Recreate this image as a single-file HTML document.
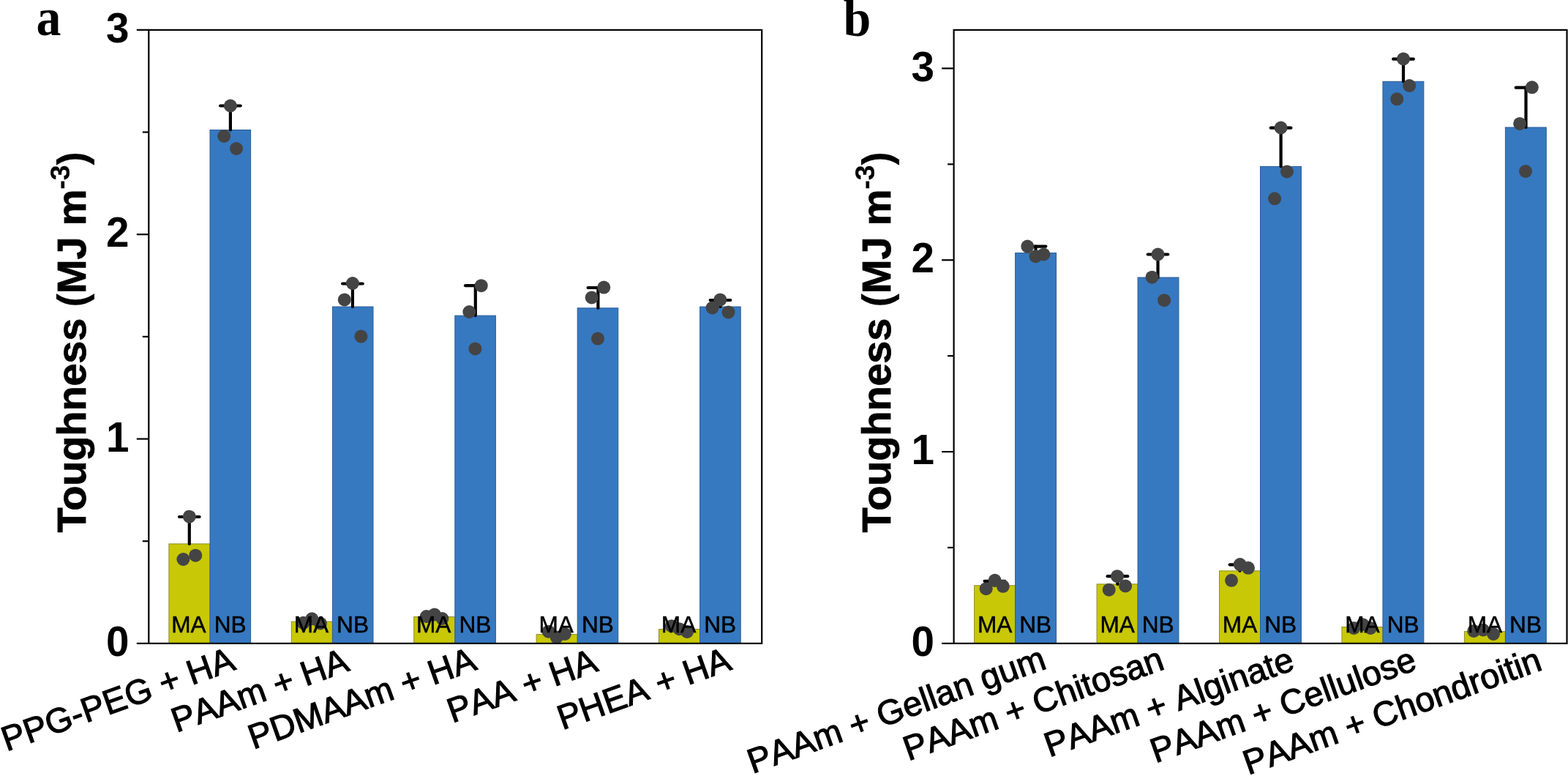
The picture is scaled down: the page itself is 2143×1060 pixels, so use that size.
<!DOCTYPE html>
<html lang="en">
<head>
<meta charset="utf-8">
<style>
html,body{margin:0;padding:0;background:#fff;}
body{width:2143px;height:1060px;overflow:hidden;}
svg{display:block;}
text{font-family:"Liberation Sans",Arial,Helvetica,sans-serif;fill:#000;font-kerning:none;}
.tk{font-weight:bold;font-size:56.6px;text-anchor:end;}
.yl{font-weight:bold;font-size:56.0px;font-kerning:normal;letter-spacing:-0.2px;stroke:#000;stroke-width:.8px;}
.xl{font-size:47.2px;text-anchor:end;stroke:#000;stroke-width:1.1px;}
.bl{font-size:31.6px;text-anchor:middle;stroke:#000;stroke-width:.5px;}
.pl{font-family:"Liberation Serif","Times New Roman",serif;font-weight:bold;font-size:71.5px;}
.ax{stroke:#000;stroke-width:2.2;fill:none;}
.eb{stroke:#000;stroke-width:4.2;stroke-linecap:round;fill:none;}
.bar{stroke-width:1;}
.dot{fill:#444444;}
</style>
</head>
<body>
<svg width="2143" height="1060" viewBox="0 0 2143 1060">
<rect x="0" y="0" width="2143" height="1060" fill="#fff"/>

<g id="panel-a">
<rect class="bar" x="230.9" y="742.9" width="56.1" height="136" fill="#c8c806" stroke="#8e8e2c"/>
<rect class="bar" x="287" y="177.5" width="55.6" height="701.4" fill="#3679c0" stroke="#2c5d99"/>
<rect class="bar" x="398.3" y="849.1" width="56.1" height="29.8" fill="#c8c806" stroke="#8e8e2c"/>
<rect class="bar" x="454.4" y="419" width="55.6" height="459.9" fill="#3679c0" stroke="#2c5d99"/>
<rect class="bar" x="565.7" y="842.6" width="56.1" height="36.3" fill="#c8c806" stroke="#8e8e2c"/>
<rect class="bar" x="621.8" y="431.1" width="55.6" height="447.8" fill="#3679c0" stroke="#2c5d99"/>
<rect class="bar" x="733.1" y="866.6" width="56.1" height="12.3" fill="#c8c806" stroke="#8e8e2c"/>
<rect class="bar" x="789.2" y="420.8" width="55.6" height="458.1" fill="#3679c0" stroke="#2c5d99"/>
<rect class="bar" x="900.5" y="859.5" width="56.1" height="19.4" fill="#c8c806" stroke="#8e8e2c"/>
<rect class="bar" x="956.6" y="419" width="55.6" height="459.9" fill="#3679c0" stroke="#2c5d99"/>
<line class="eb" x1="258.8" y1="742.9" x2="258.8" y2="706"/><line class="eb" x1="245" y1="706" x2="272.6" y2="706"/>
<line class="eb" x1="314.9" y1="177.5" x2="314.9" y2="144.5"/><line class="eb" x1="301.1" y1="144.5" x2="328.7" y2="144.5"/>
<line class="eb" x1="481.9" y1="419" x2="481.9" y2="387.5"/><line class="eb" x1="468.1" y1="387.5" x2="495.7" y2="387.5"/>
<line class="eb" x1="649.8" y1="431.1" x2="649.8" y2="390.2"/><line class="eb" x1="636" y1="390.2" x2="663.6" y2="390.2"/>
<line class="eb" x1="817.4" y1="420.8" x2="817.4" y2="393"/><line class="eb" x1="803.6" y1="393" x2="831.2" y2="393"/>
<line class="eb" x1="984.5" y1="419" x2="984.5" y2="410"/><line class="eb" x1="970.7" y1="410" x2="998.3" y2="410"/>
<circle class="dot" cx="258.8" cy="705.7" r="9.0"/>
<circle class="dot" cx="250.4" cy="764" r="9.0"/>
<circle class="dot" cx="267.2" cy="758.7" r="9.0"/>
<circle class="dot" cx="314.9" cy="144.5" r="9.0"/>
<circle class="dot" cx="306.2" cy="186" r="9.0"/>
<circle class="dot" cx="323" cy="203" r="9.0"/>
<circle class="dot" cx="414.5" cy="850.8" r="9.0"/>
<circle class="dot" cx="437.9" cy="851.5" r="9.0"/>
<circle class="dot" cx="426.3" cy="845.3" r="9.0"/>
<circle class="dot" cx="481.9" cy="387" r="9.0"/>
<circle class="dot" cx="470.8" cy="409.4" r="9.0"/>
<circle class="dot" cx="493.4" cy="459.6" r="9.0"/>
<circle class="dot" cx="582.8" cy="842" r="9.0"/>
<circle class="dot" cx="604.4" cy="845" r="9.0"/>
<circle class="dot" cx="593.8" cy="839.4" r="9.0"/>
<circle class="dot" cx="657.7" cy="390.2" r="9.0"/>
<circle class="dot" cx="641.3" cy="426" r="9.0"/>
<circle class="dot" cx="649.4" cy="476.4" r="9.0"/>
<circle class="dot" cx="749.6" cy="862.7" r="9.0"/>
<circle class="dot" cx="771.9" cy="865.9" r="9.0"/>
<circle class="dot" cx="760.8" cy="870.6" r="9.0"/>
<circle class="dot" cx="825.3" cy="392.6" r="9.0"/>
<circle class="dot" cx="808.7" cy="406.4" r="9.0"/>
<circle class="dot" cx="817" cy="462.6" r="9.0"/>
<circle class="dot" cx="917.8" cy="855.2" r="9.0"/>
<circle class="dot" cx="928.5" cy="859.2" r="9.0"/>
<circle class="dot" cx="939.1" cy="862.9" r="9.0"/>
<circle class="dot" cx="984.3" cy="409.4" r="9.0"/>
<circle class="dot" cx="973.6" cy="420.4" r="9.0"/>
<circle class="dot" cx="995.5" cy="426.4" r="9.0"/>
<rect class="ax" x="203.3" y="40.9" width="837.9" height="838"/>
<line class="ax" x1="186.8" y1="878.9" x2="203.3" y2="878.9"/>
<text class="tk" x="176.6" y="896.1">0</text>
<line class="ax" x1="194.8" y1="739.22" x2="203.3" y2="739.22"/>
<line class="ax" x1="186.8" y1="599.55" x2="203.3" y2="599.55"/>
<text class="tk" x="176.6" y="616.75">1</text>
<line class="ax" x1="194.8" y1="459.87" x2="203.3" y2="459.87"/>
<line class="ax" x1="186.8" y1="320.2" x2="203.3" y2="320.2"/>
<text class="tk" x="176.6" y="337.4">2</text>
<line class="ax" x1="194.8" y1="180.52" x2="203.3" y2="180.52"/>
<line class="ax" x1="186.8" y1="40.85" x2="203.3" y2="40.85"/>
<text class="tk" x="176.6" y="58.05">3</text>
<text class="bl" x="257.95" y="863.6">MA</text>
<text class="bl" x="314.65" y="863.6">NB</text>
<text class="bl" x="425.35" y="863.6">MA</text>
<text class="bl" x="482.05" y="863.6">NB</text>
<text class="bl" x="592.75" y="863.6">MA</text>
<text class="bl" x="649.45" y="863.6">NB</text>
<text class="bl" x="760.15" y="863.6">MA</text>
<text class="bl" x="816.85" y="863.6">NB</text>
<text class="bl" x="927.55" y="863.6">MA</text>
<text class="bl" x="984.25" y="863.6">NB</text>
<text class="xl" transform="translate(323.8 913.8) rotate(-19.7)">PPG-PEG + HA</text>
<text class="xl" transform="translate(479.4 915.4) rotate(-19.7)">PAAm + HA</text>
<text class="xl" transform="translate(653.6 913.8) rotate(-19.7)">PDMAAm + HA</text>
<text class="xl" transform="translate(819.4 915.8) rotate(-19.7)">PAA + HA</text>
<text class="xl" transform="translate(1002 913.8) rotate(-19.7)">PHEA + HA</text>
<text class="yl" transform="translate(116.6 727.5) rotate(-90)">Toughness <tspan stroke-width="0">(</tspan>MJ m<tspan font-size="37.5" dy="-22" stroke-width=".2">-3</tspan><tspan dy="22" stroke-width="0">)</tspan></text>
<text class="pl" transform="translate(49.4 47.8) scale(.95 1)">a</text>
</g>
<g id="panel-b">
<rect class="bar" x="1331.6" y="799.8" width="56" height="79.1" fill="#c8c806" stroke="#8e8e2c"/>
<rect class="bar" x="1387.6" y="345.5" width="55.9" height="533.4" fill="#3679c0" stroke="#2c5d99"/>
<rect class="bar" x="1499.05" y="797.9" width="56" height="81" fill="#c8c806" stroke="#8e8e2c"/>
<rect class="bar" x="1555.05" y="379" width="55.9" height="499.9" fill="#3679c0" stroke="#2c5d99"/>
<rect class="bar" x="1666.5" y="779.8" width="56" height="99.1" fill="#c8c806" stroke="#8e8e2c"/>
<rect class="bar" x="1722.5" y="227.4" width="55.9" height="651.5" fill="#3679c0" stroke="#2c5d99"/>
<rect class="bar" x="1833.95" y="856.4" width="56" height="22.5" fill="#c8c806" stroke="#8e8e2c"/>
<rect class="bar" x="1889.95" y="111.3" width="55.9" height="767.6" fill="#3679c0" stroke="#2c5d99"/>
<rect class="bar" x="2001.4" y="862.6" width="56" height="16.3" fill="#c8c806" stroke="#8e8e2c"/>
<rect class="bar" x="2057.4" y="174" width="55.9" height="704.9" fill="#3679c0" stroke="#2c5d99"/>
<line class="eb" x1="1359.4" y1="799.8" x2="1359.4" y2="793.8"/><line class="eb" x1="1345.6" y1="793.8" x2="1373.2" y2="793.8"/>
<line class="eb" x1="1415.5" y1="345.5" x2="1415.5" y2="336.6"/><line class="eb" x1="1401.7" y1="336.6" x2="1429.3" y2="336.6"/>
<line class="eb" x1="1527.4" y1="797.9" x2="1527.4" y2="787.2"/><line class="eb" x1="1513.6" y1="787.2" x2="1541.2" y2="787.2"/>
<line class="eb" x1="1582.5" y1="379" x2="1582.5" y2="347.5"/><line class="eb" x1="1568.7" y1="347.5" x2="1596.3" y2="347.5"/>
<line class="eb" x1="1694.5" y1="779.8" x2="1694.5" y2="771.3"/><line class="eb" x1="1680.7" y1="771.3" x2="1708.3" y2="771.3"/>
<line class="eb" x1="1750.6" y1="227.4" x2="1750.6" y2="174.7"/><line class="eb" x1="1736.8" y1="174.7" x2="1764.4" y2="174.7"/>
<line class="eb" x1="1918" y1="111.3" x2="1918" y2="80.7"/><line class="eb" x1="1904.2" y1="80.7" x2="1931.8" y2="80.7"/>
<line class="eb" x1="2085.5" y1="174" x2="2085.5" y2="119.7"/><line class="eb" x1="2071.7" y1="119.7" x2="2099.3" y2="119.7"/>
<circle class="dot" cx="1347.7" cy="804.2" r="9.0"/>
<circle class="dot" cx="1370.8" cy="800.8" r="9.0"/>
<circle class="dot" cx="1359.6" cy="792.8" r="9.0"/>
<circle class="dot" cx="1404.3" cy="336.6" r="9.0"/>
<circle class="dot" cx="1415.5" cy="350.2" r="9.0"/>
<circle class="dot" cx="1426.4" cy="347.5" r="9.0"/>
<circle class="dot" cx="1527" cy="787.2" r="9.0"/>
<circle class="dot" cx="1515.7" cy="805.7" r="9.0"/>
<circle class="dot" cx="1538.1" cy="800.4" r="9.0"/>
<circle class="dot" cx="1582.5" cy="347.5" r="9.0"/>
<circle class="dot" cx="1574.5" cy="378.7" r="9.0"/>
<circle class="dot" cx="1591.1" cy="410.2" r="9.0"/>
<circle class="dot" cx="1694.7" cy="771.1" r="9.0"/>
<circle class="dot" cx="1706" cy="775.8" r="9.0"/>
<circle class="dot" cx="1683" cy="792.8" r="9.0"/>
<circle class="dot" cx="1750.6" cy="174.5" r="9.0"/>
<circle class="dot" cx="1758.9" cy="234.5" r="9.0"/>
<circle class="dot" cx="1742.1" cy="271.3" r="9.0"/>
<circle class="dot" cx="1850.4" cy="858" r="9.0"/>
<circle class="dot" cx="1862.6" cy="853.2" r="9.0"/>
<circle class="dot" cx="1873" cy="858" r="9.0"/>
<circle class="dot" cx="1918" cy="80.4" r="9.0"/>
<circle class="dot" cx="1926.2" cy="117" r="9.0"/>
<circle class="dot" cx="1909.2" cy="135.3" r="9.0"/>
<circle class="dot" cx="2014.2" cy="861.9" r="9.0"/>
<circle class="dot" cx="2027" cy="860.5" r="9.0"/>
<circle class="dot" cx="2041" cy="866" r="9.0"/>
<circle class="dot" cx="2093.8" cy="119.3" r="9.0"/>
<circle class="dot" cx="2077.1" cy="168.9" r="9.0"/>
<circle class="dot" cx="2085" cy="234" r="9.0"/>
<rect class="ax" x="1303.6" y="40.9" width="837.9" height="838"/>
<line class="ax" x1="1287.1" y1="878.9" x2="1303.6" y2="878.9"/>
<text class="tk" x="1276.9" y="896.1">0</text>
<line class="ax" x1="1295.1" y1="747.99" x2="1303.6" y2="747.99"/>
<line class="ax" x1="1287.1" y1="617.07" x2="1303.6" y2="617.07"/>
<text class="tk" x="1276.9" y="634.27">1</text>
<line class="ax" x1="1295.1" y1="486.15" x2="1303.6" y2="486.15"/>
<line class="ax" x1="1287.1" y1="355.24" x2="1303.6" y2="355.24"/>
<text class="tk" x="1276.9" y="372.44">2</text>
<line class="ax" x1="1295.1" y1="224.33" x2="1303.6" y2="224.33"/>
<line class="ax" x1="1287.1" y1="93.41" x2="1303.6" y2="93.41"/>
<text class="tk" x="1276.9" y="110.61">3</text>
<text class="bl" x="1359.65" y="863.6">MA</text>
<text class="bl" x="1415.25" y="863.6">NB</text>
<text class="bl" x="1527.1" y="863.6">MA</text>
<text class="bl" x="1582.7" y="863.6">NB</text>
<text class="bl" x="1694.55" y="863.6">MA</text>
<text class="bl" x="1750.15" y="863.6">NB</text>
<text class="bl" x="1862" y="863.6">MA</text>
<text class="bl" x="1917.6" y="863.6">NB</text>
<text class="bl" x="2029.45" y="863.6">MA</text>
<text class="bl" x="2085.05" y="863.6">NB</text>
<text class="xl" transform="translate(1432.2 912.4) rotate(-19.7)">PAAm + Gellan gum</text>
<text class="xl" transform="translate(1593.4 913.4) rotate(-19.7)">PAAm + Chitosan</text>
<text class="xl" transform="translate(1771.4 913.8) rotate(-19.7)">PAAm + Alginate</text>
<text class="xl" transform="translate(1938.4 913.8) rotate(-19.7)">PAAm + Cellulose</text>
<text class="xl" transform="translate(2109.8 914.3) rotate(-19.7)">PAAm + Chondroitin</text>
<text class="yl" transform="translate(1216.9 727.5) rotate(-90)">Toughness <tspan stroke-width="0">(</tspan>MJ m<tspan font-size="37.5" dy="-22" stroke-width=".2">-3</tspan><tspan dy="22" stroke-width="0">)</tspan></text>
<text class="pl" transform="translate(1152.6 48.8) scale(.95 1)">b</text>
</g>
</svg>
</body>
</html>
